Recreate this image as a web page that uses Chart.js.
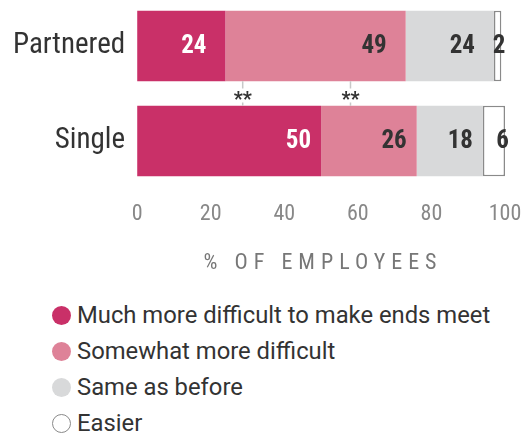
<!DOCTYPE html>
<html>
<head>
<meta charset="utf-8">
<script src="https://cdn.jsdelivr.net/npm/chart.js@4/dist/chart.umd.min.js"></script>
<style>
  html, body { margin: 0; padding: 0; background: #fff; overflow: hidden; }
  #wrap { position: relative; width: 529px; height: 322px; margin-top: -31px; }
  #legend { margin: 6px 0 0 52px; font-family: Roboto, sans-serif; font-size: 23.8px; color: #333; }
  #legend div { height: 36px; line-height: 36px; display: flex; align-items: center; }
  #legend span.dot { display: inline-block; width: 19px; height: 19px; border-radius: 50%; margin-right: 6px; box-sizing: border-box; }
</style>
</head>
<body>
<div id="wrap"><canvas id="graph"></canvas></div>
<div id="legend"></div>
<script>
'use strict';

var groups = ['Partnered', 'Single'];
var seriesNames = ['Much more difficult to make ends meet', 'Somewhat more difficult', 'Same as before', 'Easier'];
var muchMore = [24, 50];
var somewhatMore = [49, 26];
var same = [24, 18];
var easier = [2, 6];
var xTicks = [0, 20, 40, 60, 80, 100];
// significance markers sit between the two bars
var sigMarks = [28.7, 58];

var fills = ['#C93068', '#DE8298', '#D8D9DA', '#FFFFFF'];
var borders = ['#C93068', '#DE8298', '#D8D9DA', '#8A8A8A'];
var labelColors = ['#FFFFFF', '#333333', '#333333', '#333333'];
var labelGap = [19, 10];
var condensed = "'Liberation Sans Narrow', 'Roboto Condensed', Roboto, sans-serif";

var valueLabels = {
    id: 'valueLabels',
    afterDatasetsDraw: function (chart) {
        var ctx = chart.ctx;
        ctx.save();
        ctx.font = 'bold 25px ' + condensed;
        ctx.textBaseline = 'middle';
        ctx.textAlign = 'right';
        chart.data.datasets.forEach(function (ds, i) {
            chart.getDatasetMeta(i).data.forEach(function (bar, j) {
                ctx.fillStyle = labelColors[i];
                var right = bar.x - labelGap[j];
                if (i === 3) right = bar.x + 4;
                ctx.fillText(ds.data[j], right, bar.y + 1);
            });
        });
        // significance marks
        var x = chart.scales.x;
        var m0 = chart.getDatasetMeta(0).data;
        var gapTop = m0[0].y + m0[0].height / 2;
        var gapBottom = m0[1].y - m0[1].height / 2;
        var mid = (gapTop + gapBottom) / 2;
        ctx.strokeStyle = '#C8C8C8';
        ctx.lineWidth = 1.5;
        ctx.fillStyle = '#333';
        ctx.textAlign = 'center';
        ctx.font = 'bold 20px ' + condensed;
        sigMarks.forEach(function (v) {
            var px = x.getPixelForValue(v);
            ctx.beginPath();
            ctx.moveTo(px, gapTop);
            ctx.lineTo(px, mid - 5);
            ctx.moveTo(px, mid + 9);
            ctx.lineTo(px, gapBottom);
            ctx.stroke();
            ctx.fillText('**', px, mid + 7);
        });
        // axis title
        ctx.fillStyle = '#777';
        ctx.font = '22px ' + condensed;
        ctx.letterSpacing = '6px';
        ctx.textAlign = 'center';
        ctx.fillText('% OF EMPLOYEES', (chart.chartArea.left + chart.chartArea.right) / 2 + 2, chart.chartArea.bottom + 75);
        ctx.restore();
    }
};

var datasets = [muchMore, somewhatMore, same, easier].map(function (d, i) {
    return {
        label: seriesNames[i],
        data: d,
        backgroundColor: fills[i],
        borderColor: borders[i],
        borderWidth: i === 3 ? 1.5 : 0,
        borderSkipped: false,
        barPercentage: 1,
        categoryPercentage: 0.74
    };
});

new Chart('graph', {
    type: 'bar',
    data: { labels: groups, datasets: datasets },
    options: {
        indexAxis: 'y',
        responsive: true,
        maintainAspectRatio: false,
        animation: false,
        layout: { padding: { top: 0, right: 24, bottom: 50, left: 1 } },
        plugins: { legend: { display: false }, tooltip: { enabled: false } },
        scales: {
            x: {
                stacked: true,
                min: 0,
                max: 100,
                afterBuildTicks: function (s) { s.ticks = xTicks.map(function (v) { return { value: v }; }); },
                // let the "100" label hang past the plot edge
                afterFit: function (s) { s.paddingRight = 0; },
                grid: { display: false, drawTicks: false },
                border: { display: false },
                ticks: { color: '#888', padding: 13, font: { family: condensed, size: 22 } }
            },
            y: {
                stacked: true,
                grid: { display: false, drawTicks: false },
                border: { display: false },
                ticks: { color: '#333', padding: 12, font: { family: condensed, size: 29 } }
            }
        }
    },
    plugins: [valueLabels]
});

var legend = document.getElementById('legend');
seriesNames.forEach(function (name, i) {
    var row = document.createElement('div');
    var dot = document.createElement('span');
    dot.className = 'dot';
    dot.style.background = fills[i];
    if (i === 3) dot.style.border = '1.5px solid #8A8A8A';
    row.appendChild(dot);
    row.appendChild(document.createTextNode(name));
    legend.appendChild(row);
});
</script>
</body>
</html>
